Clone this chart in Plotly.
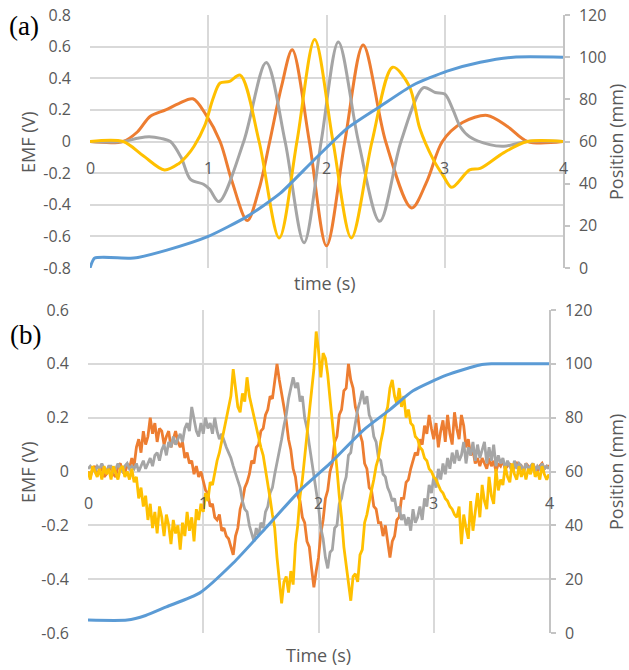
import plotly.graph_objects as go

W, H = 629, 670

# ---------------- Panel (a): simulated (smooth) ----------------
a_orange_t = [0, 0.28, 0.4, 0.51, 0.64, 0.75, 0.87, 0.98, 1.1, 1.2, 1.33, 1.43, 1.52, 1.62, 1.71, 1.855, 2.0, 2.155, 2.31, 2.5, 2.72, 2.85, 2.98, 3.15, 3.36, 3.53, 3.7, 4.0]
a_orange_v = [0, 0, 0.06, 0.16, 0.2, 0.24, 0.27, 0.17, 0.0, -0.25, -0.5, -0.3, 0.0, 0.35, 0.58, 0.0, -0.66, 0.0, 0.61, 0.0, -0.42, -0.25, 0.0, 0.12, 0.165, 0.095, 0.0, 0.0]

a_gray_t = [0, 0.28, 0.4, 0.5, 0.6, 0.68, 0.77, 0.85, 0.96, 1.01, 1.09, 1.3, 1.49, 1.65, 1.81, 1.955, 2.1, 2.27, 2.45, 2.63, 2.82, 2.92, 3.0, 3.07, 3.13, 3.21, 3.38, 3.5, 3.7, 4.0]
a_gray_v = [0, 0, 0.02, 0.03, 0.02, 0.0, -0.1, -0.24, -0.27, -0.3, -0.38, 0.0, 0.5, 0.0, -0.64, 0.0, 0.63, 0.0, -0.505, 0.0, 0.34, 0.31, 0.30, 0.2, 0.095, 0.03, -0.02, -0.03, 0.0, 0.0]

a_yellow_t = [0, 0.28, 0.45, 0.63, 0.75, 0.82, 0.88, 0.97, 1.04, 1.1, 1.18, 1.27, 1.43, 1.6, 1.75, 1.9, 2.055, 2.21, 2.385, 2.56, 2.7, 2.79, 2.9, 2.99, 3.06, 3.21, 3.3, 3.5, 3.7, 4.0]
a_yellow_v = [0, 0, -0.09, -0.18, -0.14, -0.09, -0.03, 0.1, 0.27, 0.37, 0.38, 0.42, 0.0, -0.61, 0.0, 0.645, 0.0, -0.61, 0.0, 0.47, 0.35, 0.08, -0.11, -0.22, -0.29, -0.18, -0.17, -0.07, 0.0, 0.0]

a_pos_t = [0, 0.04, 0.37, 0.65, 1.0, 1.33, 1.61, 1.89, 2.17, 2.45, 2.73, 3.02, 3.3, 3.58, 4.0]
a_pos_mm = [0, 4.7, 4.7, 8.5, 15, 24.5, 35.5, 51, 66, 76.5, 86.7, 93.4, 97.6, 100, 100]

# ---------------- Panel (b): measured (noisy), sampled every 0.02 s ----------------
b_t = [round(i * 0.02, 2) for i in range(201)]
b_orange = [
    0.00, -0.02, 0.01, 0.02, -0.01, 0.00, 0.02, -0.02, -0.01, 0.02,
    0.01, -0.01, -0.02, 0.02, 0.03, 0.00, -0.01, 0.03, 0.01, 0.05,
    0.02, 0.09, 0.12, 0.07, 0.15, 0.10, 0.13, 0.20, 0.14, 0.18,
    0.11, 0.16, 0.15, 0.10, 0.13, 0.15, 0.09, 0.12, 0.15, 0.11,
    0.09, 0.11, 0.05, 0.07, 0.03, 0.04, -0.01, 0.02, -0.02, 0.00,
    -0.04, -0.07, -0.08, -0.13, -0.12, -0.17, -0.18, -0.16, -0.22, -0.21,
    -0.24, -0.25, -0.28, -0.31, -0.24, -0.21, -0.14, -0.11, -0.06, -0.04,
    -0.01, 0.04, 0.03, 0.09, 0.10, 0.15, 0.16, 0.21, 0.23, 0.28,
    0.27, 0.34, 0.40, 0.34, 0.29, 0.23, 0.19, 0.12, 0.08, 0.01,
    -0.02, -0.09, -0.11, -0.17, -0.19, -0.26, -0.28, -0.36, -0.43, -0.37,
    -0.32, -0.23, -0.18, -0.10, -0.07, 0.00, 0.03, 0.11, 0.13, 0.21,
    0.23, 0.30, 0.31, 0.40, 0.34, 0.31, 0.24, 0.21, 0.14, 0.11,
    0.03, 0.01, -0.06, -0.07, -0.13, -0.14, -0.19, -0.19, -0.24, -0.20,
    -0.27, -0.32, -0.26, -0.24, -0.18, -0.17, -0.10, -0.10, -0.04, -0.03,
    0.01, 0.04, 0.07, 0.06, 0.12, 0.10, 0.17, 0.14, 0.21, 0.16,
    0.12, 0.18, 0.09, 0.15, 0.19, 0.11, 0.21, 0.14, 0.10, 0.22,
    0.16, 0.12, 0.21, 0.17, 0.09, 0.12, 0.06, 0.08, 0.03, 0.05,
    0.02, 0.05, 0.03, 0.01, 0.05, 0.02, 0.04, 0.00, 0.03, 0.02,
    0.04, 0.01, 0.02, 0.03, 0.00, 0.02, 0.03, 0.01, 0.02, 0.00,
    0.03, 0.02, 0.01, 0.03, 0.01, 0.00, 0.02, 0.03, 0.01, 0.02,
    0.02]
b_gray = [
    0.01, 0.02, 0.01, 0.00, 0.02, 0.01, 0.03, 0.01, 0.00, 0.02,
    0.02, 0.00, 0.01, 0.03, 0.01, 0.00, 0.02, 0.03, 0.01, 0.02,
    0.01, 0.03, 0.00, 0.02, 0.04, 0.01, 0.03, 0.05, 0.02, 0.06,
    0.07, 0.04, 0.08, 0.10, 0.06, 0.11, 0.09, 0.13, 0.10, 0.12,
    0.14, 0.11, 0.16, 0.18, 0.15, 0.24, 0.19, 0.15, 0.13, 0.18,
    0.14, 0.20, 0.16, 0.18, 0.14, 0.20, 0.15, 0.12, 0.14, 0.11,
    0.09, 0.07, 0.05, 0.02, -0.01, -0.04, -0.06, -0.11, -0.14, -0.15,
    -0.20, -0.23, -0.26, -0.21, -0.24, -0.19, -0.21, -0.15, -0.13, -0.08,
    -0.06, -0.01, 0.03, 0.08, 0.12, 0.17, 0.21, 0.27, 0.31, 0.35,
    0.31, 0.33, 0.26, 0.28, 0.20, 0.16, 0.10, 0.04, -0.01, -0.08,
    -0.13, -0.21, -0.25, -0.32, -0.36, -0.30, -0.29, -0.21, -0.20, -0.12,
    -0.10, -0.05, -0.02, 0.06, 0.07, 0.13, 0.18, 0.23, 0.26, 0.30,
    0.25, 0.28, 0.21, 0.19, 0.13, 0.11, 0.05, 0.04, -0.01, -0.02,
    -0.06, -0.08, -0.11, -0.10, -0.15, -0.13, -0.18, -0.16, -0.20, -0.17,
    -0.22, -0.14, -0.19, -0.17, -0.13, -0.18, -0.10, -0.13, -0.05, -0.08,
    -0.02, -0.06, 0.01, -0.03, 0.03, -0.01, 0.05, 0.01, 0.07, 0.03,
    0.08, 0.04, 0.06, 0.11, 0.03, 0.09, 0.06, 0.11, 0.04, 0.10,
    0.05, 0.08, 0.11, 0.03, 0.09, 0.04, 0.10, 0.02, 0.06, 0.03,
    0.05, 0.01, 0.04, 0.02, 0.00, 0.04, 0.01, 0.03, 0.02, 0.00,
    0.03, 0.01, 0.02, 0.03, 0.00, 0.02, 0.01, 0.03, 0.01, 0.02,
    0.01]
b_yellow = [
    0.00, -0.03, 0.02, 0.00, -0.02, 0.01, -0.03, 0.02, -0.01, 0.01,
    -0.03, 0.02, -0.01, -0.03, 0.01, 0.02, -0.02, 0.00, -0.03, 0.01,
    -0.04, -0.02, -0.10, -0.06, -0.13, -0.09, -0.18, -0.12, -0.21, -0.15,
    -0.23, -0.13, -0.17, -0.24, -0.16, -0.20, -0.27, -0.18, -0.23, -0.20,
    -0.29, -0.19, -0.24, -0.15, -0.22, -0.17, -0.26, -0.14, -0.18, -0.12,
    -0.15, -0.08, -0.11, -0.04, -0.05, 0.00, 0.04, 0.07, 0.11, 0.16,
    0.19, 0.24, 0.28, 0.38, 0.30, 0.24, 0.22, 0.29, 0.26, 0.35,
    0.28, 0.24, 0.20, 0.16, 0.13, 0.09, 0.06, 0.01, -0.05, -0.10,
    -0.16, -0.21, -0.32, -0.40, -0.49, -0.41, -0.39, -0.45, -0.37, -0.42,
    -0.27, -0.20, -0.09, -0.03, 0.06, 0.13, 0.22, 0.30, 0.38, 0.52,
    0.45, 0.35, 0.44, 0.42, 0.36, 0.27, 0.19, 0.10, 0.01, -0.09,
    -0.17, -0.28, -0.35, -0.43, -0.48, -0.39, -0.38, -0.41, -0.31, -0.29,
    -0.19, -0.16, -0.11, -0.07, -0.03, 0.02, 0.05, 0.11, 0.15, 0.21,
    0.24, 0.31, 0.34, 0.28, 0.25, 0.31, 0.24, 0.28, 0.20, 0.23,
    0.18, 0.17, 0.13, 0.12, 0.09, 0.08, 0.05, 0.04, 0.01, 0.00,
    -0.02, -0.03, -0.05, -0.07, -0.08, -0.10, -0.11, -0.13, -0.14, -0.16,
    -0.17, -0.13, -0.27, -0.16, -0.21, -0.25, -0.11, -0.22, -0.15, -0.08,
    -0.17, -0.05, -0.11, -0.14, -0.02, -0.09, -0.12, 0.01, -0.07, -0.03,
    -0.05, 0.02, -0.02, -0.04, 0.03, -0.01, -0.03, 0.02, -0.02, 0.01,
    -0.03, 0.01, -0.01, 0.03, -0.02, 0.00, -0.03, 0.02, -0.01, -0.03,
    -0.01]

b_pos_t = [0, 0.34, 0.5, 0.68, 0.97, 1.26, 1.55, 1.84, 2.1, 2.39, 2.62, 2.82, 3.11, 3.4, 3.5, 4.0]
b_pos_mm = [4.8, 4.8, 6.5, 9.7, 14.9, 26, 39.4, 53, 63, 75.4, 83, 90, 95.8, 99.6, 100, 100]

a_emf_ticks = [-0.8, -0.6, -0.4, -0.2, 0, 0.2, 0.4, 0.6, 0.8]
b_emf_ticks = [-0.6, -0.4, -0.2, 0, 0.2, 0.4, 0.6]
pos_ticks = [0, 20, 40, 60, 80, 100, 120]
time_ticks = [0, 1, 2, 3, 4]

ORANGE, GRAY, YELLOW, BLUE = "#ED7D31", "#A5A5A5", "#FFC000", "#5B9BD5"
TXT = "#595959"
GRID = "#D9D9D9"
FONT = "Open Sans"

fig = go.Figure()

# panel (a)
for tt, vv, col in [(a_orange_t, a_orange_v, ORANGE), (a_gray_t, a_gray_v, GRAY), (a_yellow_t, a_yellow_v, YELLOW)]:
    fig.add_trace(go.Scatter(x=tt, y=vv, mode="lines", line=dict(color=col, width=3, shape="spline", smoothing=0.9),
                             xaxis="x", yaxis="y"))
fig.add_trace(go.Scatter(x=a_pos_t, y=a_pos_mm, mode="lines", line=dict(color=BLUE, width=3, shape="spline", smoothing=0.6),
                         xaxis="x", yaxis="y2"))

# panel (b)
for vv, col in [(b_orange, ORANGE), (b_gray, GRAY), (b_yellow, YELLOW)]:
    fig.add_trace(go.Scatter(x=b_t, y=vv, mode="lines", line=dict(color=col, width=2.8), xaxis="x2", yaxis="y3"))
fig.add_trace(go.Scatter(x=b_pos_t, y=b_pos_mm, mode="lines", line=dict(color=BLUE, width=3, shape="spline", smoothing=0.6),
                         xaxis="x2", yaxis="y4"))

tickfont = dict(family=FONT, size=16, color=TXT)

ax_x = dict(range=[0, 4], tickvals=time_ticks, showticklabels=False, showgrid=True, gridcolor=GRID, gridwidth=1.5,
            zeroline=False, showline=False, ticks="", automargin=False)
ax_left = dict(showgrid=True, gridcolor=GRID, gridwidth=1.5, zeroline=False, showline=False, ticks="",
               tickfont=tickfont, ticklabelstandoff=18, automargin=False)
ax_right = dict(showgrid=False, zeroline=False, showline=True, linecolor="#C4C4C4", linewidth=1.5,
                ticks="outside", ticklen=5, tickcolor="#C4C4C4", tickwidth=1.5, side="right",
                tickfont=tickfont, tickvals=pos_ticks, ticktext=[str(v) for v in pos_ticks], range=[0, 120],
                ticklabelstandoff=6, automargin=False)

xa = [90 / W, 563 / W]
ya = [1 - 268 / H, 1 - 15 / H]
xb = [88 / W, 549 / W]
yb = [1 - 633 / H, 1 - 310 / H]

fig.update_layout(
    width=W, height=H, margin=dict(l=0, r=0, t=0, b=0, autoexpand=False),
    paper_bgcolor="white", plot_bgcolor="white", showlegend=False,
    xaxis=dict(domain=xa, anchor="y", **ax_x),
    yaxis=dict(domain=ya, anchor="x", range=[-0.8, 0.8], tickvals=a_emf_ticks,
               ticktext=["%g" % v for v in a_emf_ticks], **ax_left),
    yaxis2=dict(overlaying="y", anchor="x", **ax_right),
    xaxis2=dict(domain=xb, anchor="y3", **ax_x),
    yaxis3=dict(domain=yb, anchor="x2", range=[-0.6, 0.6], tickvals=b_emf_ticks,
                ticktext=["%g" % v for v in b_emf_ticks], **ax_left),
    yaxis4=dict(overlaying="y3", anchor="x2", **ax_right),
)

ann = []
# time tick labels sitting under the zero line
for t in time_ticks:
    ann.append(dict(x=t, y=0, xref="x", yref="y", text=str(t), showarrow=False, yshift=-27,
                    xanchor="center", yanchor="middle", font=tickfont))
    ann.append(dict(x=t, y=0, xref="x2", yref="y3", text=str(t), showarrow=False, yshift=-31,
                    xanchor="center", yanchor="middle", font=tickfont))

titlefont = dict(family=FONT, size=18, color=TXT)
serif = dict(family="Liberation Serif", size=27, color="black")


def pann(x, y, text, font, angle=0):
    return dict(x=x / W, y=1 - y / H, xref="paper", yref="paper", text=text, textangle=angle, showarrow=False,
                font=font, xanchor="center", yanchor="middle")


ann += [
    pann(325, 283, "time (s)", titlefont),
    pann(318, 655, "Time (s)", titlefont),
    pann(28, 142, "EMF (V)", titlefont, -90),
    pann(616, 142, "Position (mm)", titlefont, -90),
    pann(28, 472, "EMF (V)", titlefont, -90),
    pann(616, 472, "Position (mm)", titlefont, -90),
    pann(24, 26, "(a)", serif),
    pann(25, 335, "(b)", serif),
]
fig.update_layout(annotations=ann)

fig.write_html("out.html", config={"displayModeBar": False},
               post_script="document.body.style.margin='0px';document.body.style.overflow='hidden';")
